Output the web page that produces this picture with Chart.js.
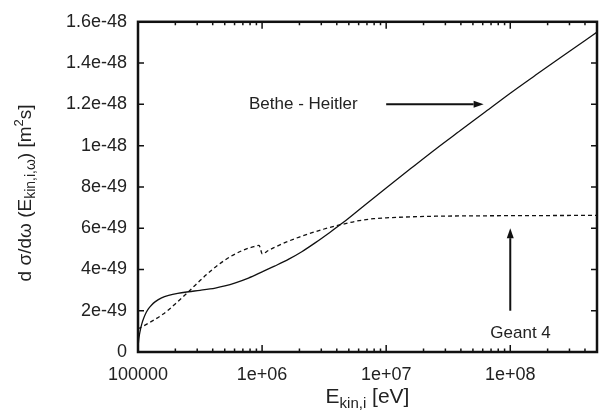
<!DOCTYPE html>
<html>
<head>
<meta charset="utf-8">
<script src="https://cdn.jsdelivr.net/npm/chart.js@4.4.0/dist/chart.umd.min.js"></script>
<style>
  html, body { margin: 0; padding: 0; background: #fff; }
  #wrap { width: 603px; height: 418px; }
</style>
</head>
<body>
<div id="wrap"><canvas id="chartOne"></canvas></div>
<script>
// energies in eV, cross sections in units of 1e-49 m^2 s (scaled below)
const betheEnergy = [1e5, 1.0046e5, 1.0139e5, 1.028e5, 1.047e5, 1.072e5, 1.109e5, 1.161e5, 1.216e5, 1.288e5,
  1.38e5, 1.549e5, 1.766e5, 2.089e5, 2.559e5, 3.162e5, 4.198e5, 5.012e5, 6.095e5, 7.762e5,
  1e6, 1.259e6, 1.641e6, 2.089e6, 2.692e6, 3.467e6, 4.467e6, 6.592e6, 1e7, 1.585e7,
  2.512e7, 3.981e7, 6.31e7, 1e8, 1.585e8, 2.512e8, 3.981e8, 5e8];
const betheSigma = [0, 0.3, 0.6, 0.85, 1.1, 1.35, 1.62, 1.9, 2.1, 2.28,
  2.44, 2.62, 2.74, 2.84, 2.92, 2.99, 3.1, 3.2, 3.35, 3.58,
  3.88, 4.16, 4.5, 4.86, 5.3, 5.77, 6.26, 7.08, 7.95, 8.9,
  9.84, 10.74, 11.64, 12.54, 13.4, 14.25, 15.08, 15.5];

const geantEnergy = [1e5, 1.122e5, 1.259e5, 1.413e5, 1.585e5, 1.778e5, 1.995e5, 2.239e5, 2.512e5, 2.818e5,
  3.162e5, 3.548e5, 3.981e5, 4.467e5, 5.012e5, 5.623e5, 6.31e5, 7.079e5, 7.943e5, 8.913e5,
  9.44e5, 1.005e6, 1.122e6, 1.259e6, 1.542e6, 1.995e6, 2.529e6, 3.162e6, 3.981e6, 4.699e6,
  5.623e6, 6.592e6, 7.943e6, 1e7, 1.585e7, 2.512e7, 6.31e7, 1.585e8, 5e8];
const geantSigma = [1.12, 1.28, 1.45, 1.63, 1.83, 2.06, 2.33, 2.6, 2.88, 3.17,
  3.46, 3.74, 4.0, 4.24, 4.45, 4.64, 4.8, 4.94, 5.05, 5.13,
  5.17, 4.75, 4.92, 5.07, 5.31, 5.57, 5.78, 5.96, 6.12, 6.22,
  6.33, 6.4, 6.46, 6.5, 6.55, 6.58, 6.6, 6.61, 6.62];
const sigmaUnit = 1e-49;

const xTickValues = [1e5, 1e6, 1e7, 1e8];
const xTickLabels = ["100000", "1e+06", "1e+07", "1e+08"];
const yTickValues = [0, 2e-49, 4e-49, 6e-49, 8e-49, 1e-48, 1.2e-48, 1.4e-48, 1.6e-48];
const yTickLabels = ["0", "2e-49", "4e-49", "6e-49", "8e-49", "1e-48", "1.2e-48", "1.4e-48", "1.6e-48"];

const FONT = '"Liberation Sans", Arial, Helvetica, sans-serif';

// draws text pieces with sub/superscripts, centred on x
function drawRich(ctx, parts, cx, y) {
  let total = 0;
  parts.forEach(p => { ctx.font = p.size + "px " + FONT; total += ctx.measureText(p.t).width; });
  let x = cx - total / 2;
  parts.forEach(p => {
    ctx.font = p.size + "px " + FONT;
    ctx.fillText(p.t, x, y + (p.dy || 0));
    x += ctx.measureText(p.t).width;
  });
}

function arrow(ctx, x1, y1, x2, y2) {
  const a = Math.atan2(y2 - y1, x2 - x1);
  const len = 10, half = 3.5;
  ctx.beginPath();
  ctx.moveTo(x1, y1);
  ctx.lineTo(x2 - Math.cos(a) * len, y2 - Math.sin(a) * len);
  ctx.stroke();
  ctx.beginPath();
  ctx.moveTo(x2, y2);
  ctx.lineTo(x2 - Math.cos(a) * len - Math.sin(a) * half, y2 - Math.sin(a) * len + Math.cos(a) * half);
  ctx.lineTo(x2 - Math.cos(a) * len + Math.sin(a) * half, y2 - Math.sin(a) * len - Math.cos(a) * half);
  ctx.closePath();
  ctx.fill();
}

const framePlugin = {
  id: "frame",
  afterDraw(chart) {
    const ctx = chart.ctx;
    const a = chart.chartArea;
    const xs = chart.scales.x, ys = chart.scales.y;
    ctx.save();
    ctx.strokeStyle = "#111";
    ctx.fillStyle = "#111";

    // inward ticks, gnuplot style
    ctx.lineWidth = 1.5;
    ctx.beginPath();
    for (let d = 1e5; d <= 1e8; d *= 10) {
      for (let m = 1; m <= 9; m++) {
        const v = m * d;
        if (v > 5e8) break;
        const px = xs.getPixelForValue(v);
        const len = m === 1 ? 7 : 3.5;
        ctx.moveTo(px, a.bottom); ctx.lineTo(px, a.bottom - len);
        ctx.moveTo(px, a.top); ctx.lineTo(px, a.top + len);
      }
    }
    yTickValues.forEach(v => {
      const py = ys.getPixelForValue(v);
      ctx.moveTo(a.left, py); ctx.lineTo(a.left + 6, py);
      ctx.moveTo(a.right, py); ctx.lineTo(a.right - 6, py);
    });
    ctx.stroke();

    // frame
    ctx.lineWidth = 2.5;
    ctx.strokeRect(a.left, a.top, a.right - a.left, a.bottom - a.top);

    // annotations
    ctx.lineWidth = 2;
    arrow(ctx, xs.getPixelForValue(1e7), ys.getPixelForValue(1.2e-48), xs.getPixelForValue(6.1e7), ys.getPixelForValue(1.2e-48));
    arrow(ctx, xs.getPixelForValue(1e8), ys.getPixelForValue(2e-49), xs.getPixelForValue(1e8), ys.getPixelForValue(6e-49));

    ctx.fillStyle = "#222";
    ctx.textBaseline = "middle";
    ctx.textAlign = "left";
    drawRich(ctx, [{ t: "Bethe - Heitler", size: 17 }], xs.getPixelForValue(2.15e6), ys.getPixelForValue(1.2e-48));
    drawRich(ctx, [{ t: "Geant 4", size: 17 }], xs.getPixelForValue(1.21e8), ys.getPixelForValue(0.9e-49));

    // axis titles
    ctx.textBaseline = "alphabetic";
    drawRich(ctx, [
      { t: "E", size: 21 },
      { t: "kin,i", size: 15, dy: 5 },
      { t: " [eV]", size: 21 }
    ], (a.left + a.right) / 2, 403);

    ctx.translate(31, (a.top + a.bottom) / 2 + 6);
    ctx.rotate(-Math.PI / 2);
    drawRich(ctx, [
      { t: "d σ/dω (E", size: 19 },
      { t: "kin,i,ω", size: 14, dy: 4 },
      { t: ") [m", size: 19 },
      { t: "2", size: 13, dy: -8 },
      { t: "s]", size: 19 }
    ], 0, 0);
    ctx.restore();
  }
};

const ctxOne = document.getElementById("chartOne");
new Chart(ctxOne, {
  type: "line",
  data: {
    datasets: [
      {
        label: "Bethe - Heitler",
        data: betheEnergy.map((e, i) => ({ x: e, y: betheSigma[i] * sigmaUnit })),
        borderColor: "#111",
        borderWidth: 1.3,
        pointRadius: 0,
        cubicInterpolationMode: "monotone",
        fill: false,
      },
      {
        label: "Geant 4",
        data: geantEnergy.map((e, i) => ({ x: e, y: geantSigma[i] * sigmaUnit })),
        borderColor: "#111",
        borderWidth: 1.3,
        borderDash: [4, 3],
        pointRadius: 0,
        cubicInterpolationMode: "monotone",
        fill: false,
      },
    ],
  },
  options: {
    responsive: true,
    maintainAspectRatio: false,
    animation: false,
    layout: { padding: { top: 16, right: 6, left: 0, bottom: 0 } },
    plugins: { legend: { display: false }, tooltip: { enabled: false } },
    scales: {
      x: {
        type: "logarithmic",
        min: 1e5,
        max: 5e8,
        grid: { display: false, drawTicks: false },
        border: { display: false },
        afterBuildTicks: (s) => { s.ticks = xTickValues.map(v => ({ value: v })); },
        afterFit: (s) => { s.height = 66; },
        ticks: {
          autoSkip: false,
          maxRotation: 0,
          padding: 12,
          color: "#222",
          font: { family: FONT, size: 18 },
          callback: (v, i) => xTickLabels[i],
        },
      },
      y: {
        min: 0,
        max: 1.6e-48,
        grid: { display: false, drawTicks: false },
        border: { display: false },
        afterBuildTicks: (s) => { s.ticks = yTickValues.map(v => ({ value: v })); },
        afterFit: (s) => { s.width = 138; },
        ticks: {
          autoSkip: false,
          padding: 11,
          color: "#222",
          font: { family: FONT, size: 18 },
          callback: (v, i) => yTickLabels[i],
        },
      },
    },
  },
  plugins: [framePlugin],
});
</script>
</body>
</html>
